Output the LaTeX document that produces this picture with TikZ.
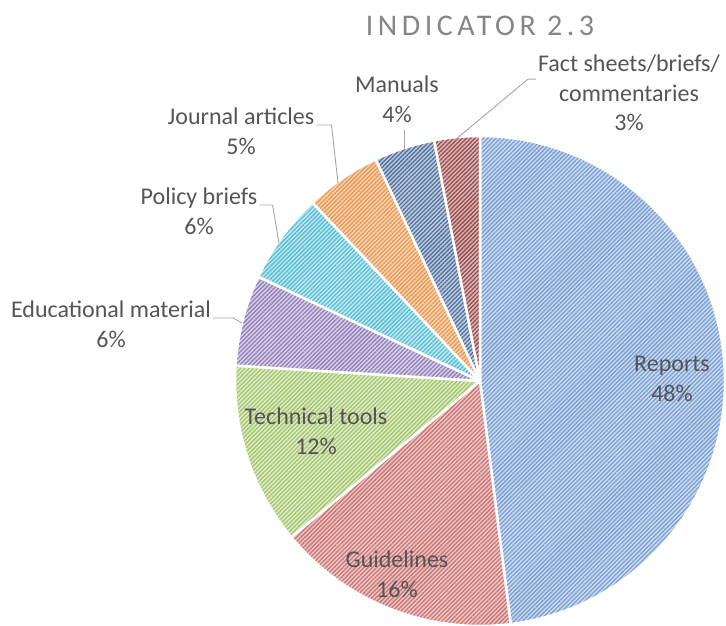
\documentclass[tikz,border=0pt]{standalone}
\usepackage{fontspec}
\setmainfont{Carlito}
\usepackage{xcolor}
\usepackage{tikz}
\usetikzlibrary{patterns.meta, positioning}

\definecolor{txtgray}{HTML}{555555}
\definecolor{ttlgray}{HTML}{858585}
\definecolor{leadgray}{HTML}{A6A6A6}
\definecolor{repbase}{HTML}{C8DAF1}\definecolor{repline}{HTML}{7C9FD0}
\definecolor{gdlbase}{HTML}{F3C4C4}\definecolor{gdlline}{HTML}{C47878}
\definecolor{tecbase}{HTML}{DDEBC4}\definecolor{tecline}{HTML}{A5C672}
\definecolor{edubase}{HTML}{D9D1EA}\definecolor{eduline}{HTML}{9080B6}
\definecolor{polbase}{HTML}{BDE9F2}\definecolor{polline}{HTML}{5BBCD2}
\definecolor{jrnbase}{HTML}{F9D2AE}\definecolor{jrnline}{HTML}{E69A58}
\definecolor{manbase}{HTML}{BCCBE0}\definecolor{manline}{HTML}{55729C}
\definecolor{fctbase}{HTML}{E2B2B2}\definecolor{fctline}{HTML}{8E5050}

\begin{document}
\begin{tikzpicture}[x=1pt, y=1pt,
    hatch/.style 2 args={preaction={fill=#1}, pattern={Lines[angle=45,distance=3pt,line width=1.3pt]}, pattern color=#2},
    slice/.style={draw=white, line width=2.5pt, line join=round},
    lbl/.style={text=txtgray, font=\fontsize{24}{28}\selectfont, inner sep=2pt, text height=16pt, text depth=5pt},
    leader/.style={draw=leadgray, line width=0.9pt}]
  \useasboundingbox (0,0) rectangle (726,626);
  \coordinate (C) at (480,245);

  % slices, clockwise from the top
  \draw[slice, hatch={repbase}{repline}] (C) -- ++(90:245) arc[start angle=90, end angle=-82.8, radius=245] -- cycle;
  \draw[slice, hatch={gdlbase}{gdlline}] (C) -- ++(-82.8:245) arc[start angle=-82.8, end angle=-140.4, radius=245] -- cycle;
  \draw[slice, hatch={tecbase}{tecline}] (C) -- ++(-140.4:245) arc[start angle=-140.4, end angle=-183.6, radius=245] -- cycle;
  \draw[slice, hatch={edubase}{eduline}] (C) -- ++(-183.6:245) arc[start angle=-183.6, end angle=-205.2, radius=245] -- cycle;
  \draw[slice, hatch={polbase}{polline}] (C) -- ++(-205.2:245) arc[start angle=-205.2, end angle=-226.8, radius=245] -- cycle;
  \draw[slice, hatch={jrnbase}{jrnline}] (C) -- ++(-226.8:245) arc[start angle=-226.8, end angle=-244.8, radius=245] -- cycle;
  \draw[slice, hatch={manbase}{manline}] (C) -- ++(-244.8:245) arc[start angle=-244.8, end angle=-259.2, radius=245] -- cycle;
  \draw[slice, hatch={fctbase}{fctline}] (C) -- ++(-259.2:245) arc[start angle=-259.2, end angle=-270, radius=245] -- cycle;

  \node[text=ttlgray, font=\addfontfeatures{LetterSpace=15}\fontsize{30}{34}\selectfont, anchor=base] (title) at (480,590) {INDICATOR 2.3};

  % labels inside the pie
  \node[lbl, anchor=base] (rep) at (672,254) {Reports};
  \node[lbl, below=4pt of rep] (rep-v) {48\%};
  \node[lbl, anchor=base] (gdl) at (397,58) {Guidelines};
  \node[lbl, below=4pt of gdl] (gdl-v) {16\%};
  \node[lbl, anchor=base] (tec) at (316,201) {Technical tools};
  \node[lbl, below=4pt of tec] (tec-v) {12\%};

  % labels outside, with leaders
  \node[lbl, anchor=base] (edu) at (111,308) {Educational material};
  \node[lbl, below=4pt of edu] (edu-v) {6\%};
  \node[lbl, anchor=base] (pol) at (199,421) {Policy briefs};
  \node[lbl, below=4pt of pol] (pol-v) {6\%};
  \node[lbl, anchor=base] (jrn) at (241,501) {Journal articles};
  \node[lbl, below=4pt of jrn] (jrn-v) {5\%};
  \node[lbl, anchor=base] (man) at (397,533) {Manuals};
  \node[lbl, below=4pt of man] (man-v) {4\%};
  \node[lbl, anchor=base] (fct) at (629,554) {Fact sheets/briefs/};
  \node[lbl, below=4pt of fct] (fct-c) {commentaries};
  \node[lbl, below=4pt of fct-c] (fct-v) {3\%};

  \coordinate (edu-end) at (242,303);
  \coordinate (pol-end) at (279,383);
  \coordinate (jrn-end) at (338,443);
  \coordinate (man-end) at (404,474);
  \coordinate (fct-end) at (455,486);
  \draw[leader] (edu.base east) -- ++(20,0) -- (edu-end);
  \draw[leader] (pol.base east) -- ++(13,0) -- (pol-end);
  \draw[leader] (jrn.base east) -- ++(15,0) -- (jrn-end);
  \draw[leader] (man-v.south -| man-end) -- (man-end);
  \draw[leader] (fct.south west) -- ++(-8,0) -- (fct-end);
\end{tikzpicture}
\end{document}
